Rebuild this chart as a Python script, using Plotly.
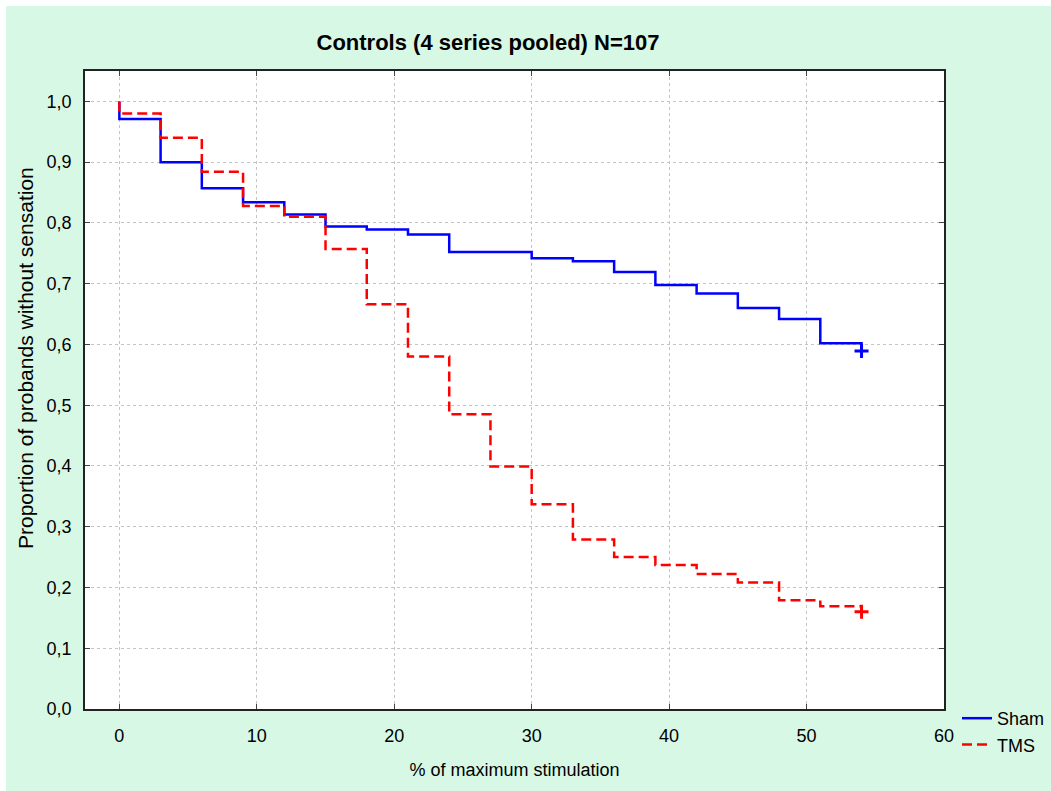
import plotly.graph_objects as go

# Data
sham_x = [0, 0, 3, 6, 9, 12, 15, 18, 21, 24, 30, 33, 36, 39, 42, 45, 48, 51, 54]
sham_y = [1.0, 0.971, 0.900, 0.857, 0.834, 0.814, 0.794, 0.789, 0.781, 0.752, 0.742,
          0.737, 0.719, 0.698, 0.684, 0.660, 0.642, 0.602, 0.589]
tms_x = [0, 0, 3, 6, 9, 12, 15, 18, 21, 24, 27, 30, 33, 36, 39, 42, 45, 48, 51, 54]
tms_y = [1.0, 0.980, 0.940, 0.884, 0.828, 0.810, 0.757, 0.666, 0.580, 0.485, 0.399,
         0.337, 0.279, 0.250, 0.237, 0.222, 0.208, 0.179, 0.169, 0.160]
y_ticks = [0.0, 0.1, 0.2, 0.3, 0.4, 0.5, 0.6, 0.7, 0.8, 0.9, 1.0]
y_tick_labels = ["0,0", "0,1", "0,2", "0,3", "0,4", "0,5", "0,6", "0,7", "0,8", "0,9", "1,0"]
x_ticks = [0, 10, 20, 30, 40, 50, 60]

GREEN = "#d8f8e6"
FONT = "Liberation Sans, Arial, sans-serif"

fig = go.Figure()
fig.add_trace(go.Scatter(x=sham_x, y=sham_y, mode="lines", name="Sham",
                         line=dict(color="#0000ff", width=2.5, shape="hv")))
fig.add_trace(go.Scatter(x=tms_x, y=tms_y, mode="lines", name="TMS",
                         line=dict(color="#ff0000", width=2.5, shape="hv", dash="10px,5px")))
# censor marks
fig.add_trace(go.Scatter(x=[sham_x[-1]], y=[sham_y[-1]], mode="markers", showlegend=False,
                         marker=dict(symbol="cross-thin", size=10, color="#0000ff",
                                     line=dict(color="#0000ff", width=3))))
fig.add_trace(go.Scatter(x=[tms_x[-1]], y=[tms_y[-1]], mode="markers", showlegend=False,
                         marker=dict(symbol="cross-thin", size=10, color="#ff0000",
                                     line=dict(color="#ff0000", width=3))))

W, H = 1051, 791
ml, mr, mt, mb = 85, 107, 71, 82
pw, ph = W - ml - mr, H - mt - mb

fig.update_layout(
    width=W, height=H,
    margin=dict(l=ml, r=mr, t=mt, b=mb, pad=0, autoexpand=False),
    paper_bgcolor=GREEN, plot_bgcolor="white",
    font=dict(family=FONT, size=18, color="black"),
    title=dict(text="<b>Controls (4 series pooled) N=107</b>", x=488 / W, xanchor="center",
               y=1 - 42 / H, yanchor="middle", font=dict(family=FONT, size=22)),
    showlegend=True,
    legend=dict(xref="container", yref="container", x=957 / W, y=1 - 700 / H,
                xanchor="left", yanchor="top",
                bgcolor="rgba(0,0,0,0)", font=dict(size=18), itemwidth=30,
                tracegroupgap=0),
    xaxis=dict(range=[-2.5, 60], tickvals=x_ticks, showgrid=True, automargin=False,
               gridcolor="#c4c4c4", griddash="dot", gridwidth=1,
               showline=True, linecolor="#222", linewidth=1.5, mirror="ticks",
               ticks="inside", ticklen=5, tickcolor="#444", zeroline=False,
               ticklabelstandoff=10,
               title=dict(text="% of maximum stimulation", standoff=18,
                          font=dict(size=18))),
    yaxis=dict(range=[0, 1.05], tickvals=y_ticks, ticktext=y_tick_labels, showgrid=True,
               automargin=False,
               gridcolor="#c4c4c4", griddash="dot", gridwidth=1,
               showline=True, linecolor="#222", linewidth=1.5, mirror="ticks",
               ticks="inside", ticklen=5, tickcolor="#444", zeroline=False,
               ticklabelstandoff=8),
    annotations=[
        dict(text="Proportion of probands without sensation", textangle=-90,
             xref="paper", yref="paper", x=-(ml - 25) / pw, y=(709 - 358) / ph,
             xanchor="center", yanchor="middle", showarrow=False,
             font=dict(family=FONT, size=21)),
    ],
    shapes=[
        dict(type="rect", xref="paper", yref="paper", x0=-ml / pw, x1=-(ml - 6) / pw,
             y0=-mb / ph, y1=1 + mt / ph, fillcolor="white", line=dict(width=0), layer="below"),
        dict(type="rect", xref="paper", yref="paper", x0=-ml / pw, x1=1 + mr / pw,
             y0=1 + (mt - 6) / ph, y1=1 + mt / ph, fillcolor="white", line=dict(width=0), layer="below"),
    ],
)

fig.write_html("out.html")
